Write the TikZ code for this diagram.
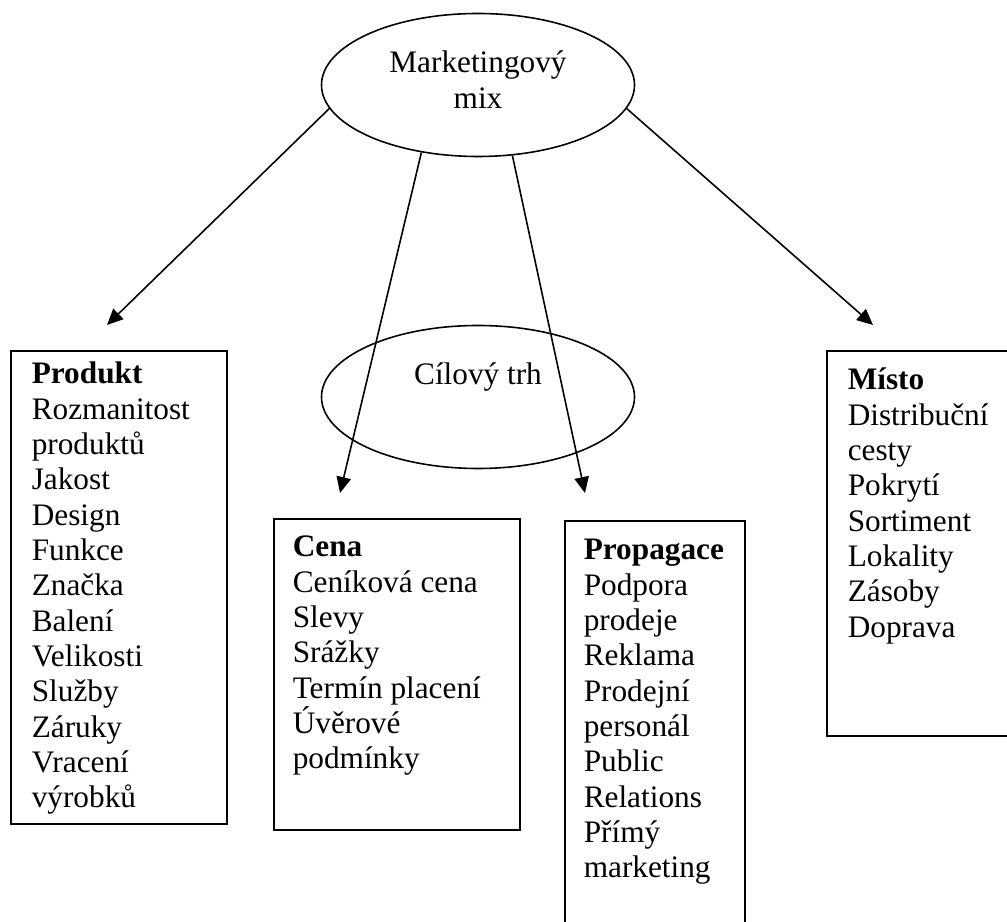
\documentclass[tikz,border=0pt]{standalone}
\usepackage{fontspec}
\setmainfont{Liberation Serif}
\usetikzlibrary{arrows.meta, positioning, shapes.geometric}
\tikzset{
  every picture/.style={line width=0.9pt},
  oval/.style={draw, ellipse, minimum width=6.26cm, minimum height=2.86cm, inner sep=0pt, align=center, font=\fontsize{17.8}{20.6}\selectfont},
  frame/.style={draw, line width=1.2pt, anchor=north west, inner sep=0pt},
  items/.style={anchor=base west, inner sep=0pt, text width=4.6cm, align=left, font=\fontsize{17.8}{20.1}\selectfont,
    execute at begin node={\spaceskip=0.25em\relax}},
  arrow/.style={-{Triangle[length=3.2mm, width=2.9mm]}, line width=0.9pt},
}

\begin{document}
\begin{tikzpicture}
  \useasboundingbox (0,0) rectangle (20.14,18.44);
  % the two ovals in the middle
  \node[oval] (mix) at (9.56,16.74) {Marketingový\\mix\strut};
  \node[oval] (trh) at (9.56,10.5) {Cílový trh\\\strut};
  % the four boxes
  \node[frame, minimum width=4.32cm, minimum height=9.46cm] (produkt) at (0.2,11.44) {};
  \node[frame, minimum width=4.92cm, minimum height=6.22cm] (cena) at (5.46,8.08) {};
  \node[frame, minimum width=3.6cm, minimum height=8.4cm] (propagace) at (11.28,8.04) {};
  \node[frame, minimum width=3.9cm, minimum height=7.7cm] (misto) at (16.52,11.44) {};
  \node[items] (produktList) at ([shift={(0.42,-0.68)}]produkt.north west)
    {\textbf{Produkt}\\Rozmanitost\\produktů\\Jakost\\Design\\Funkce\\Značka\\Balení\\Velikosti\\Služby\\Záruky\\Vracení\\výrobků};
  \node[items] (cenaList) at ([shift={(0.38,-0.78)}]cena.north west)
    {\textbf{Cena}\\Ceníková cena\\Slevy\\Srážky\\Termín placení\\Úvěrové\\podmínky};
  \node[items] (propagaceList) at ([shift={(0.38,-0.8)}]propagace.north west)
    {\textbf{Propagace}\\Podpora\\prodeje\\Reklama\\Prodejní\\personál\\Public\\Relations\\Přímý\\marketing};
  \node[items] (mistoList) at ([shift={(0.42,-0.8)}]misto.north west)
    {\textbf{Místo}\\Distribuční\\cesty\\Pokrytí\\Sortiment\\Lokality\\Zásoby\\Doprava};
  % arrow ends above the boxes
  \coordinate (toProdukt) at (2.14,11.94);
  \coordinate (toCena) at (6.8,8.58);
  \coordinate (toPropagace) at (11.7,8.58);
  \coordinate (toMisto) at (17.46,11.94);
  \draw[arrow] (mix.189) -- (toProdukt);
  \draw[arrow] (mix.230) -- (toCena);
  \draw[arrow] (mix.296) -- (toPropagace);
  \draw[arrow] (mix.351) -- (toMisto);
\end{tikzpicture}
\end{document}
